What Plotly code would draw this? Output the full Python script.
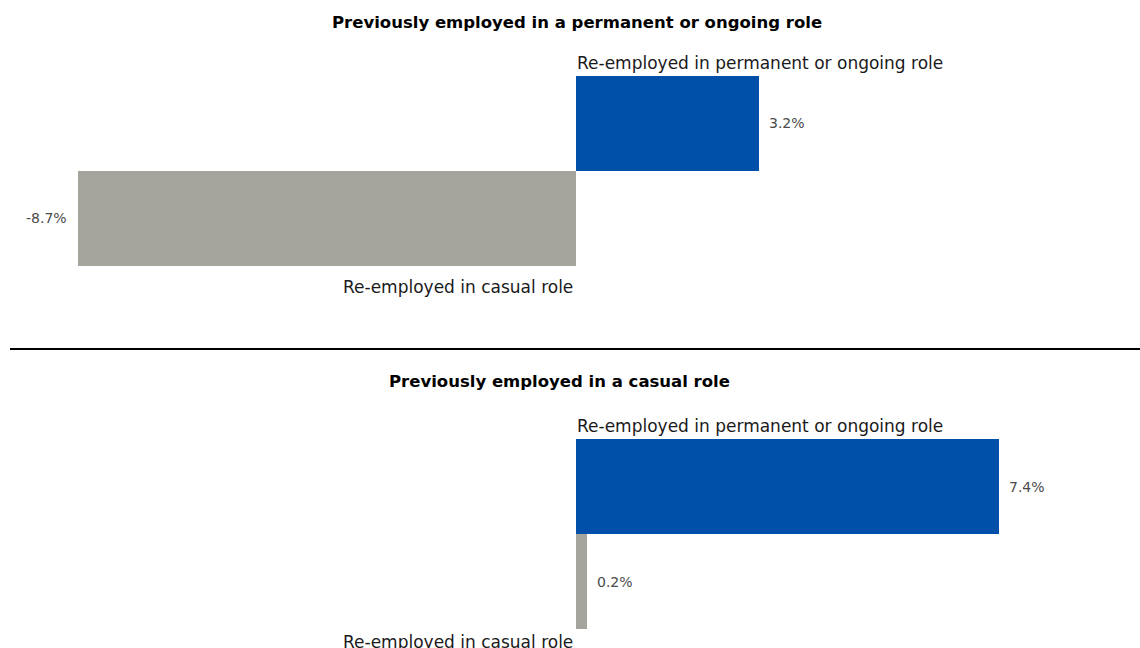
import plotly.graph_objects as go
from plotly.subplots import make_subplots

# Change in share of workers by re-employment type (percentage points)
categories = ["Re-employed in casual role", "Re-employed in permanent or ongoing role"]
prev_permanent = [-8.7, 3.2]
prev_casual = [0.2, 7.4]
panel_titles = ["Previously employed in a permanent or ongoing role",
                "Previously employed in a casual role"]

BLUE = "#004FA9"
GREY = "#A5A59D"
bar_colors = [GREY, BLUE]
FONT = "DejaVu Sans"

W, H = 1140, 648

fig = make_subplots(rows=2, cols=1)

panels = [prev_permanent, prev_casual]
for i, vals in enumerate(panels, start=1):
    fig.add_trace(
        go.Bar(
            x=vals, y=categories, orientation="h",
            marker=dict(color=bar_colors, line=dict(width=0)),
            hoverinfo="skip", showlegend=False,
        ),
        row=i, col=1,
    )

x_range = [-10.07, 9.86]
# bar area of each panel, expressed as paper fractions
domains = [[1 - 266 / H, 1 - 76 / H], [1 - 629 / H, 1 - 439 / H]]
# gap between the casual bar and its label, per panel
casual_label_shift = [-9, -1]

annotations = []
for i, vals in enumerate(panels, start=1):
    xa = "x" if i == 1 else f"x{i}"
    ya = "y" if i == 1 else f"y{i}"
    fig.update_xaxes(range=x_range, visible=False, domain=[0, 1], row=i, col=1)
    fig.update_yaxes(range=[-0.5, 1.5], visible=False, domain=domains[i - 1],
                     type="category", row=i, col=1)

    # category label above the permanent bar, starting at zero
    annotations.append(dict(
        x=0, y=1.5, xref=xa, yref=ya, text=categories[1],
        xanchor="left", yanchor="bottom", showarrow=False, xshift=-1, yshift=1,
        font=dict(family=FONT, size=17, color="#1a1a1a"),
    ))
    # category label below the casual bar, ending at zero
    annotations.append(dict(
        x=0, y=-0.5, xref=xa, yref=ya, text=categories[0],
        xanchor="right", yanchor="top", showarrow=False, xshift=-1,
        yshift=casual_label_shift[i - 1],
        font=dict(family=FONT, size=17, color="#1a1a1a"),
    ))
    # value labels at the end of each bar
    for cat, v in zip(categories, vals):
        annotations.append(dict(
            x=v, y=cat, xref=xa, yref=ya, text=f"{v:.1f}%",
            xanchor="left" if v >= 0 else "right", yanchor="middle",
            xshift=8 if v >= 0 else -9, showarrow=False,
            font=dict(family=FONT, size=14, color="#4a4a4a"),
        ))

# panel titles
title_pos = [(577 / W, 1 - 22 / H), (559 / W, 1 - 382 / H)]
for t, (tx, ty) in zip(panel_titles, title_pos):
    annotations.append(dict(
        x=tx, y=ty, xref="paper", yref="paper", text=f"<b>{t}</b>",
        xanchor="center", yanchor="middle", showarrow=False,
        font=dict(family=FONT, size=16.5, color="#000000"),
    ))

fig.update_layout(
    width=W, height=H,
    margin=dict(l=0, r=0, t=0, b=0),
    paper_bgcolor="white", plot_bgcolor="white",
    bargap=0, barmode="relative",
    annotations=annotations,
    shapes=[dict(type="line", xref="paper", yref="paper",
                 x0=10 / W, x1=1, y0=1 - 349 / H, y1=1 - 349 / H,
                 line=dict(color="#000000", width=2))],
)

fig.write_html("out.html")
